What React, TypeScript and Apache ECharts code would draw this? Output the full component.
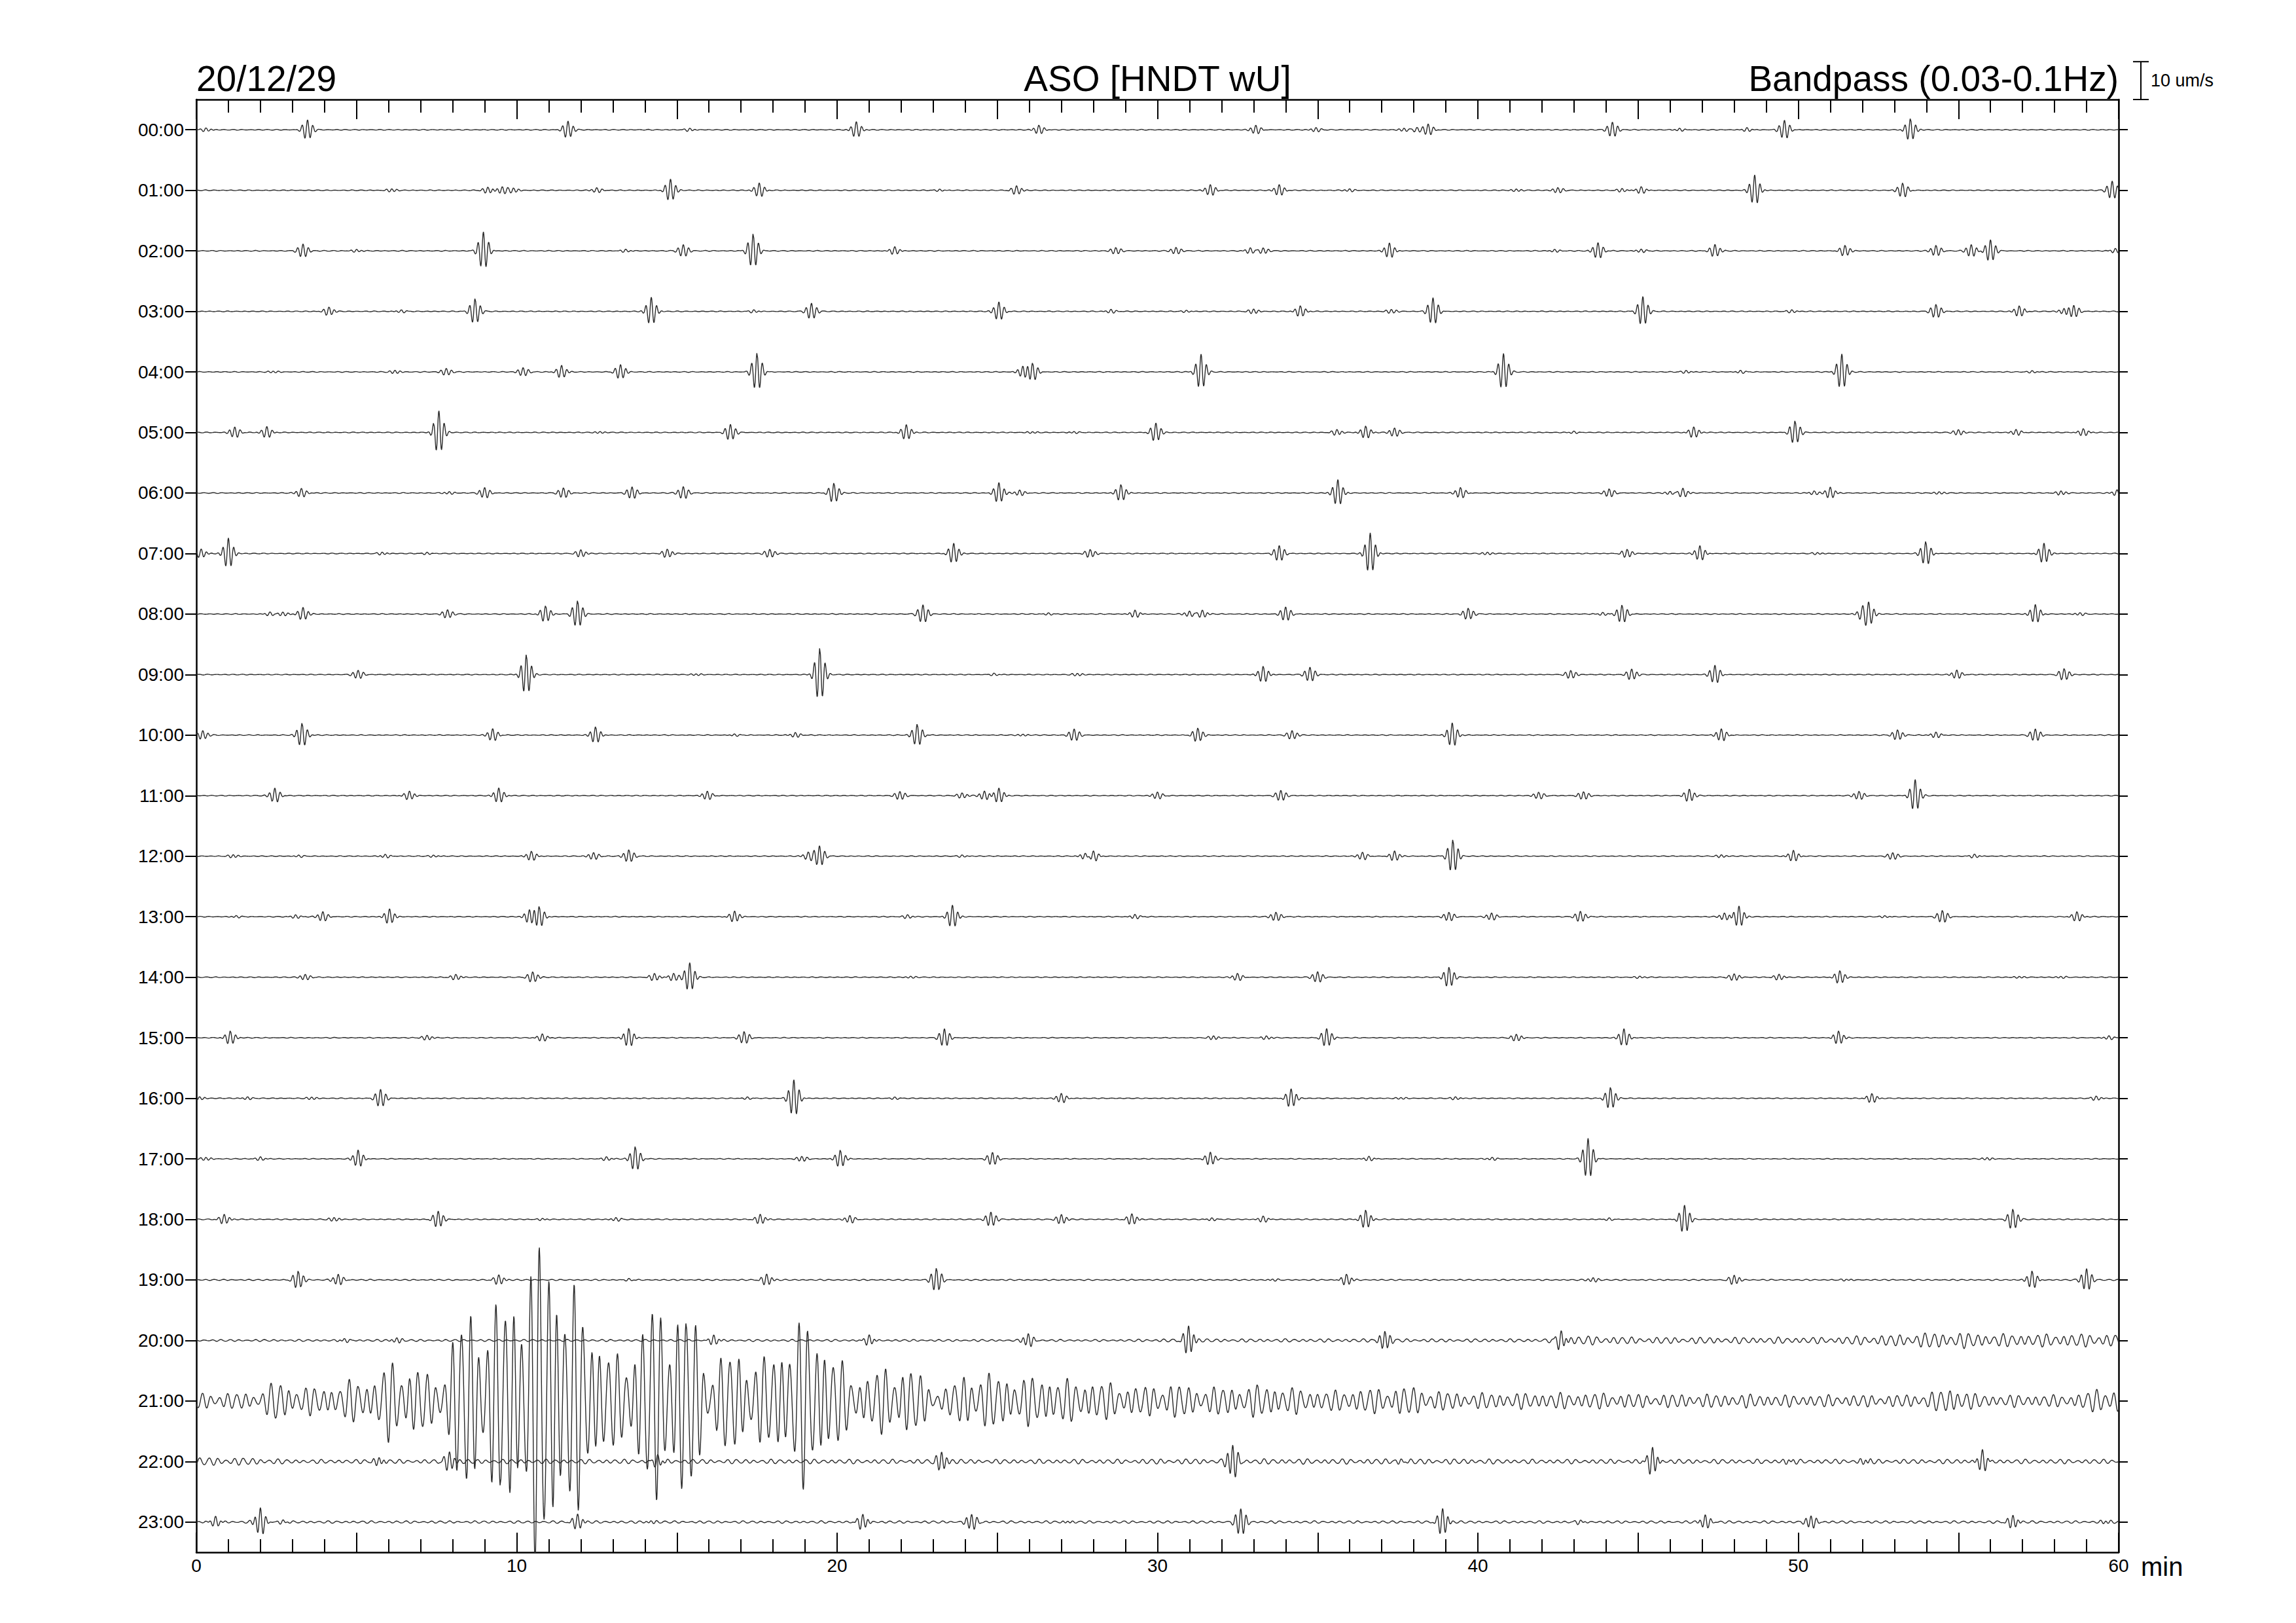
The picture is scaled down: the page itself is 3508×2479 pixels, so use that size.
import React, { useEffect, useRef } from "react";
import * as echarts from "echarts";

// ---- labels ----
const HOURS = [
  "00:00", "01:00", "02:00", "03:00", "04:00", "05:00", "06:00", "07:00",
  "08:00", "09:00", "10:00", "11:00", "12:00", "13:00", "14:00", "15:00",
  "16:00", "17:00", "18:00", "19:00", "20:00", "21:00", "22:00", "23:00",
];
const X_TICK_LABELS = [0, 10, 20, 30, 40, 50, 60];

// ---- wave packets: [minute, peak amplitude um/s] ----
const ROW_00 = [[0.3, 0.5], [3.47, 2.7], [11.6, 2.3], [15.4, 0.4], [20.6, 2.1], [26.3, 1.2], [33.07, 1.2], [34.95, 0.6], [37.7, 0.5], [38.1, 0.6], [38.45, 1.5], [44.2, 2.1], [46.3, 0.4], [48.4, 0.5], [49.57, 2.6], [53.5, 3.0]];
const ROW_01 = [[6.1, 0.5], [9.1, 0.9], [9.55, 1.0], [9.9, 0.7], [12.5, 0.7], [14.8, 3.0], [17.57, 1.9], [23.2, 0.3], [25.6, 1.2], [31.65, 1.5], [33.8, 1.5], [36.0, 0.4], [41.2, 0.4], [42.5, 0.8], [44.5, 0.5], [45.1, 0.9], [48.64, 4.0], [53.26, 2.0], [59.8, 2.5]];
const ROW_02 = [[3.33, 1.9], [5.0, 0.4], [8.96, 5.1], [13.4, 0.4], [15.2, 1.7], [17.38, 4.7], [21.8, 1.0], [28.7, 1.0], [30.58, 1.0], [32.9, 0.8], [33.3, 0.9], [37.24, 2.0], [42.4, 0.4], [43.75, 2.2], [45.1, 0.5], [47.4, 1.7], [51.46, 1.5], [54.3, 1.5], [55.4, 1.7], [56.0, 3.0], [59.9, 0.6]];
const ROW_03 = [[4.14, 1.2], [6.4, 0.4], [8.7, 3.5], [14.2, 3.7], [17.4, 0.4], [19.2, 2.2], [25.05, 2.5], [28.55, 0.5], [30.9, 0.3], [33.0, 0.7], [34.46, 1.5], [37.3, 0.6], [38.6, 3.7], [45.15, 4.0], [49.8, 0.4], [54.3, 2.0], [56.9, 1.5], [58.3, 0.8], [58.6, 1.7]];
const ROW_04 = [[2.4, 0.3], [6.2, 0.5], [7.8, 1.0], [10.2, 1.2], [11.4, 1.7], [13.24, 2.0], [17.5, 5.2], [25.8, 1.5], [26.1, 2.4], [31.36, 4.7], [40.8, 4.9], [46.5, 0.4], [48.2, 0.4], [51.36, 4.7], [57.3, 0.3]];
const ROW_05 = [[1.2, 1.5], [2.2, 1.5], [7.57, 5.7], [12.6, 0.3], [16.67, 2.2], [22.16, 2.0], [26.1, 0.3], [27.4, 0.3], [29.95, 2.5], [35.6, 0.8], [36.5, 1.7], [37.4, 1.2], [43.0, 0.3], [46.74, 1.5], [49.9, 3.2], [55.0, 0.8], [56.8, 0.8], [58.9, 1.0]];
const ROW_06 = [[3.28, 1.2], [7.9, 0.4], [9.0, 1.5], [11.46, 1.5], [13.6, 1.7], [15.2, 1.7], [19.9, 2.7], [25.05, 2.7], [25.7, 0.8], [28.86, 2.2], [35.63, 3.5], [39.46, 1.5], [44.1, 1.2], [46.0, 0.5], [46.4, 1.2], [50.5, 0.5], [51.0, 1.5], [54.4, 0.4], [58.2, 0.6], [59.95, 0.8]];
const ROW_07 = [[0.15, 1.2], [1.0, 4.0], [5.8, 0.4], [7.2, 0.3], [12.0, 1.0], [14.7, 1.2], [17.9, 1.2], [23.64, 2.7], [27.9, 1.2], [33.8, 2.2], [36.64, 5.4], [40.3, 0.4], [44.66, 1.2], [46.93, 2.0], [50.6, 0.3], [53.98, 3.2], [57.67, 2.7]];
const ROW_08 = [[2.3, 0.5], [2.7, 0.6], [3.33, 1.7], [7.84, 1.2], [10.9, 2.2], [11.9, 3.7], [22.68, 2.5], [26.6, 0.3], [29.3, 1.0], [31.0, 0.8], [31.4, 1.0], [34.0, 2.0], [39.7, 1.7], [43.9, 0.4], [44.5, 2.5], [52.0, 1.5], [52.2, 3.0], [57.4, 2.5], [58.8, 0.4]];
const ROW_09 = [[5.05, 1.2], [10.3, 5.4], [15.6, 0.3], [19.46, 7.2], [24.9, 0.3], [27.5, 0.4], [33.3, 2.2], [34.76, 2.0], [42.9, 1.2], [44.8, 1.5], [47.4, 2.5], [54.95, 1.2], [58.3, 1.7]];
const ROW_10 = [[0.2, 1.2], [3.3, 3.2], [9.25, 1.7], [12.46, 2.2], [16.8, 0.3], [18.7, 0.7], [22.5, 3.0], [25.8, 0.3], [27.4, 1.7], [31.26, 2.0], [34.2, 1.2], [39.2, 3.2], [47.6, 1.7], [53.1, 1.5], [54.3, 0.8], [57.4, 1.7]];
const ROW_11 = [[2.45, 2.0], [6.65, 1.2], [9.44, 2.0], [15.95, 1.2], [21.96, 1.2], [23.9, 0.8], [24.6, 1.2], [25.05, 2.0], [30.0, 1.0], [33.85, 1.5], [41.9, 1.0], [43.3, 1.2], [46.6, 1.7], [51.9, 1.2], [53.65, 4.2]];
const ROW_12 = [[1.15, 0.5], [3.2, 0.3], [5.9, 0.5], [7.4, 0.3], [10.46, 1.3], [12.4, 1.0], [13.5, 1.8], [19.1, 1.0], [19.45, 2.8], [23.9, 0.3], [27.75, 1.0], [28.0, 1.5], [36.4, 1.0], [37.4, 1.3], [39.22, 4.5], [47.6, 0.4], [49.85, 1.5], [52.95, 1.0], [55.5, 0.5]];
const ROW_13 = [[1.25, 0.3], [3.1, 0.5], [3.95, 1.3], [6.03, 2.0], [10.4, 1.8], [10.7, 2.8], [16.8, 1.5], [22.2, 0.5], [23.6, 3.0], [29.3, 0.6], [33.7, 1.3], [39.1, 1.3], [40.43, 1.0], [43.2, 1.5], [47.7, 1.0], [48.15, 2.8], [52.7, 0.3], [54.5, 1.8], [58.7, 1.3]];
const ROW_14 = [[3.4, 0.8], [8.1, 0.8], [10.5, 1.5], [14.3, 1.0], [14.9, 1.0], [15.4, 3.8], [22.3, 0.3], [32.5, 1.0], [35.0, 1.5], [39.1, 2.8], [45.05, 0.3], [48.0, 1.0], [49.4, 0.8], [51.3, 1.8], [56.9, 0.3], [58.2, 0.3]];
const ROW_15 = [[1.06, 1.8], [7.2, 0.7], [10.8, 1.0], [13.5, 2.5], [17.1, 1.8], [23.35, 2.5], [31.75, 0.6], [33.4, 0.5], [35.28, 2.5], [41.2, 1.0], [44.56, 2.3], [51.26, 1.8], [59.7, 0.5]];
const ROW_16 = [[0.1, 0.5], [1.6, 0.4], [3.6, 0.4], [5.75, 2.5], [17.2, 0.3], [18.65, 5.0], [21.8, 0.3], [27.0, 1.3], [34.17, 2.5], [37.6, 0.3], [39.3, 0.4], [44.14, 3.0], [52.3, 1.3], [59.3, 0.6]];
const ROW_17 = [[0.3, 0.5], [2.0, 0.5], [5.05, 2.3], [12.8, 0.5], [13.7, 3.3], [18.9, 0.8], [20.1, 2.3], [24.85, 1.8], [31.65, 1.8], [36.6, 0.6], [40.45, 0.4], [43.44, 5.5], [55.9, 0.4]];
const ROW_18 = [[0.87, 1.3], [4.3, 0.6], [7.55, 2.3], [10.8, 0.3], [13.1, 0.5], [17.6, 1.3], [20.4, 1.0], [24.8, 2.0], [27.0, 1.3], [29.2, 1.5], [31.7, 0.4], [33.3, 0.8], [36.5, 2.5], [44.1, 0.3], [46.45, 3.8], [56.7, 2.8]];
const ROW_19 = [[3.18, 2.5], [4.43, 1.5], [9.44, 1.3], [13.5, 0.3], [17.8, 1.5], [23.1, 3.3], [33.6, 0.3], [35.9, 1.5], [43.6, 0.6], [48.0, 1.3], [51.5, 0.3], [57.3, 2.3], [59.0, 3.0]];
const ROW_20 = [[4.63, 0.5], [6.26, 0.7], [16.15, 1.2], [21.0, 1.3], [25.97, 1.8], [30.97, 3.8], [37.1, 2.8], [42.6, 2.3]];
const ROW_21: number[][] = [];
const ROW_22 = [[5.7, 1.2], [7.9, 2.5], [14.4, 1.5], [23.26, 2.6], [32.35, 4.6], [37.6, 0.6], [45.45, 3.5], [49.7, 0.6], [52.1, 0.8], [55.75, 2.6]];
const ROW_23 = [[0.6, 1.3], [2.0, 3.6], [2.7, 0.5], [11.9, 2.0], [14.2, 0.4], [20.8, 2.0], [24.2, 2.3], [27.2, 0.4], [32.6, 3.8], [38.9, 3.5], [43.2, 0.5], [47.1, 1.8], [50.4, 1.9], [56.7, 1.8], [59.6, 0.5]];

const ROW_EVENTS = [
  ROW_00, ROW_01, ROW_02, ROW_03, ROW_04, ROW_05, ROW_06, ROW_07, ROW_08, ROW_09, ROW_10, ROW_11,
  ROW_12, ROW_13, ROW_14, ROW_15, ROW_16, ROW_17, ROW_18, ROW_19, ROW_20, ROW_21, ROW_22, ROW_23,
];

// ---- 21:00 earthquake amplitude envelope, every 0.5 min from 0 to 60 (um/s) ----
const ROW_21_ENVELOPE = [
  2.0, 2.0, 2.0, 2.0, 2.2, 5.5, 3.5, 3.5, 3.5, 3.8,
  6.0, 4.6, 10, 9, 8.6, 4.5, 17, 23, 23, 24,
  30, 38, 42, 30, 26, 18, 11, 12, 22, 25,
  25, 22, 8, 12, 13, 10, 12, 18, 21, 18,
  11, 6, 6.5, 8.5, 9, 7.5, 3, 3.5, 7, 7,
  6.5, 6, 6, 6, 5.5, 5, 5, 4.5, 4, 3.5,
  4, 4.5, 3.5, 3.5, 3.5, 3.5, 4, 4, 3.5, 3,
  2.5, 2.5, 3, 3, 3.2, 3.5, 3.5, 2.8, 2.3, 2.0,
  2, 2, 2, 2, 2, 2, 2, 2, 2, 1.9,
  1.7, 1.7, 1.7, 1.7, 1.7, 1.7, 1.7, 1.7, 1.6, 1.5,
  1.5, 1.5, 1.5, 1.5, 1.5, 1.5, 1.5, 1.6, 2.0, 2.8,
  3.5, 1.8, 1.5, 1.5, 1.5, 1.5, 1.5, 1.6, 2.2, 3.5,
  3.0,
];
// ---- background level of 20:00 and 22:00, every 1 min from 0 to 60 (um/s) ----
const ROW_20_BACKGROUND = [
  0.25, 0.25, 0.25, 0.25, 0.25, 0.25, 0.25, 0.25, 0.25, 0.25,
  0.25, 0.25, 0.25, 0.25, 0.25, 0.25, 0.25, 0.25, 0.25, 0.25,
  0.25, 0.25, 0.25, 0.25, 0.25, 0.25, 0.25, 0.25, 0.25, 0.25,
  0.4, 0.4, 0.4, 0.4, 0.4, 0.4, 0.4, 0.4, 0.4, 0.4,
  0.4, 0.4, 0.4, 1.2, 1.0, 0.8, 0.8, 0.8, 0.8, 0.8,
  0.8, 0.8, 1.2, 1.4, 1.9, 2.0, 1.6, 1.6, 1.6, 1.6,
  1.6,
];
const ROW_22_BACKGROUND = [
  1.0, 1.0, 0.8, 0.5, 0.5, 0.5, 0.5, 0.5, 0.55, 0.55,
  0.55, 0.55, 0.55, 0.55, 0.55, 0.55, 0.55, 0.55, 0.55, 0.55,
  0.55, 0.55, 0.55, 0.55, 0.55, 0.55, 0.55, 0.55, 0.55, 0.55,
  0.65, 0.65, 0.65, 0.65, 0.65, 0.65, 0.65, 0.65, 0.65, 0.65,
  0.65, 0.55, 0.55, 0.55, 0.55, 0.55, 0.55, 0.55, 0.55, 0.55,
  0.55, 0.55, 0.55, 0.55, 0.55, 0.55, 0.55, 0.55, 0.55, 0.55,
  0.55,
];
// background level of the quiet rows (um/s)
const BACKGROUND_LEVEL = [
  0.1, 0.1, 0.1, 0.1, 0.1, 0.1, 0.1, 0.1, 0.1, 0.1, 0.1, 0.1,
  0.1, 0.1, 0.1, 0.1, 0.1, 0.1, 0.12, 0.15, 0, 0, 0, 0.3,
];

const UM_PER_ROW = 16; // trace spacing in um/s
const SCALE_BAR_UM = 10;
const SAMPLES_PER_MIN = 75;
const PACKET_SIGMA = 0.13;
const PACKET_PERIOD = 0.17;
const FONT = '"Liberation Sans", Arial, Helvetica, sans-serif';

function levelAt(arr: number[], step: number, t: number): number {
  const i = t / step;
  const i0 = Math.min(Math.floor(i), arr.length - 1);
  const i1 = Math.min(i0 + 1, arr.length - 1);
  const f = i - i0;
  return arr[i0] + (arr[i1] - arr[i0]) * f;
}

function buildTrace(r: number): number[][] {
  const events = ROW_EVENTS[r];
  const pts: number[][] = [];
  const steps = 60 * SAMPLES_PER_MIN;
  const s = r * 1.37;
  for (let k = 0; k <= steps; k++) {
    const t = k / SAMPLES_PER_MIN;
    let v = 0;
    for (const [t0, a] of events) {
      const d = t - t0;
      if (d > -0.8 && d < 0.8) {
        v += a * Math.exp(-0.5 * (d / PACKET_SIGMA) ** 2) * Math.cos((2 * Math.PI * d) / PACKET_PERIOD);
      }
    }
    let lvl = BACKGROUND_LEVEL[r];
    if (r === 21) lvl = levelAt(ROW_21_ENVELOPE, 0.5, t);
    else if (r === 20) lvl = levelAt(ROW_20_BACKGROUND, 1, t);
    else if (r === 22) lvl = levelAt(ROW_22_BACKGROUND, 1, t);
    const c =
      0.75 * Math.sin((2 * Math.PI * t) / 0.27 + s) +
      0.25 * Math.sin((2 * Math.PI * t) / 0.35 + 2.1 * s) +
      0.15 * Math.sin((2 * Math.PI * t) / 0.19 + 3.3 * s);
    v += lvl * c;
    pts.push([Math.round(t * 10000) / 10000, Math.round((-r * UM_PER_ROW + v) * 1000) / 1000]);
  }
  return pts;
}

export default function App() {
  const ref = useRef<HTMLDivElement>(null);
  useEffect(() => {
    if (!ref.current) return;
    const chart = echarts.init(ref.current, null, { renderer: "svg" });
    const yMin = -(HOURS.length - 0.5) * UM_PER_ROW;
    const yMax = 0.5 * UM_PER_ROW;
    const axisLineStyle = { color: "#000", width: 2.5 };
    const tickStyle = { color: "#000", width: 2 };
    const xAxisBase = {
      type: "value",
      min: 0,
      max: 60,
      interval: 5,
      axisLine: { show: true, onZero: false, lineStyle: axisLineStyle },
      axisTick: { show: true, inside: true, length: 30, lineStyle: tickStyle },
      minorTick: { show: true, splitNumber: 5, length: 20, lineStyle: tickStyle },
      splitLine: { show: false },
      minorSplitLine: { show: false },
    };
    const series = HOURS.map((_, r) => ({
      type: "line",
      xAxisIndex: 0,
      yAxisIndex: 0,
      data: buildTrace(r),
      showSymbol: false,
      symbol: "none",
      silent: true,
      clip: true,
      lineStyle: { color: "#2a2a2a", width: 1.4 },
    }));
    chart.setOption({
      animation: false,
      backgroundColor: "#fff",
      grid: { left: 300, right: 271, top: 152, bottom: 108, containLabel: false },
      xAxis: [
        {
          ...xAxisBase,
          position: "bottom",
          axisLabel: {
            show: true,
            fontSize: 28,
            fontFamily: FONT,
            color: "#000",
            margin: 6,
            formatter: (v: number) => (X_TICK_LABELS.includes(v) ? String(v) : ""),
          },
        },
        { ...xAxisBase, position: "top", axisLabel: { show: false } },
      ],
      yAxis: [
        { type: "value", min: yMin, max: yMax, show: false },
        {
          type: "category",
          data: HOURS,
          inverse: true,
          position: "left",
          boundaryGap: true,
          axisLine: { show: true, onZero: false, lineStyle: axisLineStyle },
          axisTick: { show: true, alignWithLabel: true, interval: 0, length: 17, inside: false, lineStyle: tickStyle },
          axisLabel: { show: true, interval: 0, fontSize: 28, fontFamily: FONT, color: "#000", margin: 19 },
          splitLine: { show: false },
        },
        {
          type: "category",
          data: HOURS,
          inverse: true,
          position: "right",
          boundaryGap: true,
          axisLine: { show: true, onZero: false, lineStyle: axisLineStyle },
          axisTick: { show: true, alignWithLabel: true, interval: 0, length: 14, inside: false, lineStyle: tickStyle },
          axisLabel: { show: false },
          splitLine: { show: false },
        },
      ],
      series,
    });

    const top = chart.convertToPixel({ yAxisIndex: 0 }, yMax) as number;
    const barLen = (chart.convertToPixel({ yAxisIndex: 0 }, yMax - SCALE_BAR_UM) as number) - top;
    const right = chart.convertToPixel({ xAxisIndex: 0 }, 60) as number;
    const left = chart.convertToPixel({ xAxisIndex: 0 }, 0) as number;
    const bottom = chart.convertToPixel({ yAxisIndex: 0 }, yMin) as number;
    const barX = right + 34;
    const barTop = top - barLen;
    const textStyle = (text: string, size: number, align: string) => ({
      text,
      font: `${size}px ${FONT}`,
      fill: "#000",
      textAlign: align,
      align,
      textVerticalAlign: "middle",
      verticalAlign: "middle",
    });
    chart.setOption({
      graphic: [
        { type: "text", x: left, y: 120, style: textStyle("20/12/29", 55, "left") },
        { type: "text", x: (left + right) / 2, y: 120, style: textStyle("ASO [HNDT wU]", 55, "center") },
        { type: "text", x: right, y: 120, style: textStyle("Bandpass (0.03-0.1Hz)", 55, "right") },
        { type: "line", shape: { x1: barX, y1: barTop, x2: barX, y2: top }, style: { stroke: "#000", lineWidth: 2 } },
        { type: "line", shape: { x1: barX - 12, y1: barTop, x2: barX + 12, y2: barTop }, style: { stroke: "#000", lineWidth: 2 } },
        { type: "line", shape: { x1: barX - 12, y1: top, x2: barX + 12, y2: top }, style: { stroke: "#000", lineWidth: 2 } },
        { type: "text", x: barX + 15, y: (barTop + top) / 2, style: textStyle(`${SCALE_BAR_UM} um/s`, 27, "left") },
        { type: "text", x: barX, y: bottom + 22, style: textStyle("min", 40, "left") },
      ],
    });
    return () => chart.dispose();
  }, []);
  return (
    <div
      ref={ref}
      style={{ position: "fixed", left: 0, top: 0, width: 3508, height: 2479, background: "#fff" }}
    />
  );
}
